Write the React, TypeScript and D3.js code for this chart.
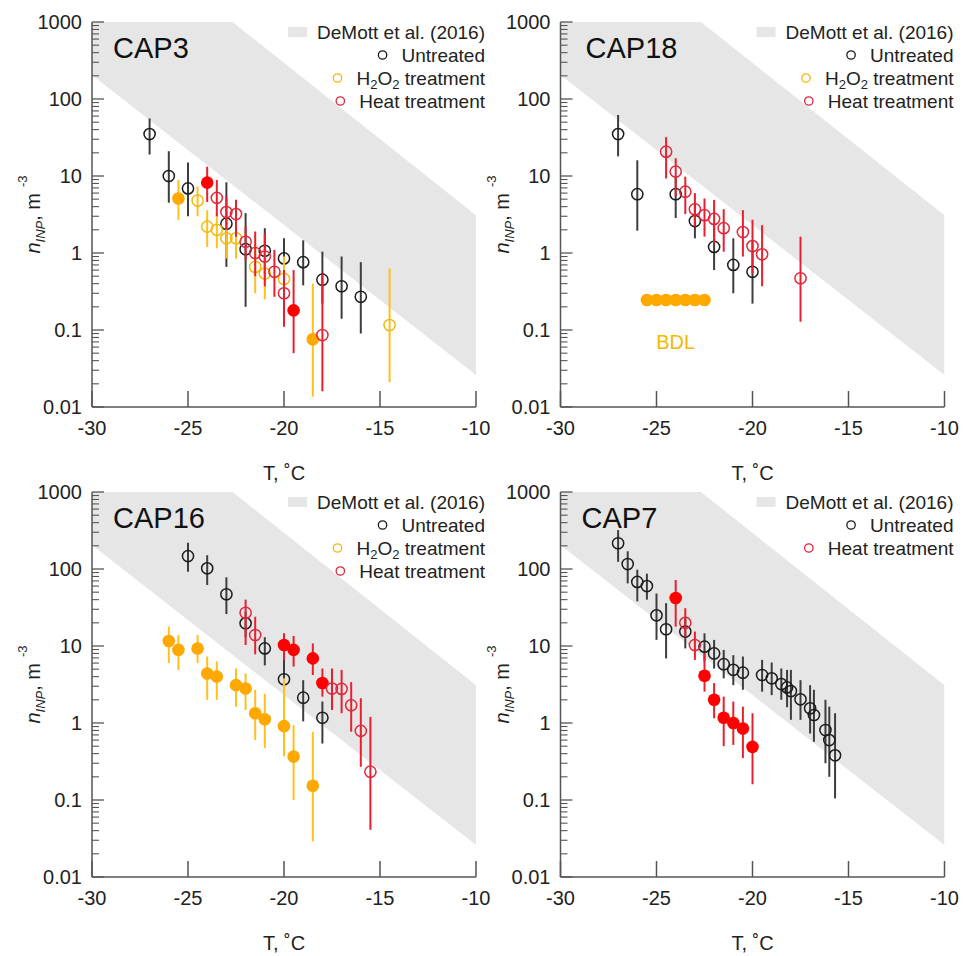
import React from "react";
import * as d3 from "d3";

// [T (°C), n_INP (m^-3), lower error, upper error, filled?]
type Pt = [number, number, number, number, number?];

// ---- CAP3
const cap3Untreated: Pt[] = [
  [-27, 35, 19, 56], [-26, 10, 4.5, 21], [-25, 6.9, 3.0, 15], [-23, 2.4, 0.66, 8.3],
  [-22, 1.12, 0.2, 3.3], [-21, 1.07, 0.52, 2.1], [-20, 0.85, 0.45, 1.55], [-19, 0.76, 0.38, 1.46],
  [-18, 0.45, 0.22, 1.04], [-17, 0.37, 0.14, 0.9], [-16, 0.27, 0.09, 0.76],
];
const cap3H2o2: Pt[] = [
  [-25.5, 5.1, 2.7, 8.9, 1], [-24.5, 4.8, 3.0, 7.3], [-24, 2.2, 1.2, 3.6], [-23.5, 2.0, 1.15, 3.3],
  [-23, 1.55, 0.85, 2.4], [-22.5, 1.55, 0.85, 2.2], [-21.5, 0.66, 0.3, 1.34], [-21, 0.54, 0.25, 1.1],
  [-20, 0.46, 0.22, 0.9], [-18.5, 0.076, 0.0136, 0.4, 1], [-14.5, 0.116, 0.021, 0.63],
];
const cap3Heat: Pt[] = [
  [-24, 8.2, 4.6, 13.2, 1], [-23.5, 5.2, 3.0, 8.9], [-23, 3.4, 2.0, 5.4], [-22.5, 3.2, 1.63, 4.9],
  [-22, 1.4, 0.81, 2.2], [-21.5, 1.0, 0.5, 1.9], [-21, 0.9, 0.37, 1.8], [-20.5, 0.57, 0.27, 1.1],
  [-20, 0.3, 0.11, 0.6], [-19.5, 0.18, 0.05, 0.6, 1], [-18, 0.086, 0.016, 0.54],
];

// ---- CAP18
const cap18Untreated: Pt[] = [
  [-27, 35, 18, 62], [-26, 5.8, 1.95, 16], [-24, 5.8, 2.85, 9.8], [-23, 2.6, 1.55, 4.4],
  [-22, 1.2, 0.6, 2.4], [-21, 0.7, 0.3, 1.55], [-20, 0.57, 0.22, 1.46],
];
// below detection limit, no error bars
const cap18H2o2: Pt[] = [
  [-25.5, 0.245, 0.245, 0.245, 1], [-25, 0.245, 0.245, 0.245, 1], [-24.5, 0.245, 0.245, 0.245, 1],
  [-24, 0.245, 0.245, 0.245, 1], [-23.5, 0.245, 0.245, 0.245, 1], [-23, 0.245, 0.245, 0.245, 1],
  [-22.5, 0.245, 0.245, 0.245, 1],
];
const cap18Heat: Pt[] = [
  [-24.5, 20.7, 9.3, 32], [-24, 11.4, 5.5, 17], [-23.5, 6.25, 3.2, 9.8], [-23, 3.7, 2.2, 6],
  [-22.5, 3.1, 1.63, 5.1], [-22, 2.77, 1.34, 4.9], [-21.5, 2.1, 1.04, 3.7], [-20.5, 1.87, 0.9, 3.6],
  [-20, 1.23, 0.54, 2.7], [-19.5, 0.96, 0.37, 2.3], [-17.5, 0.47, 0.128, 1.63],
];
const bdlLabel = { t: -24, v: 0.07 };

// ---- CAP16
const cap16Untreated: Pt[] = [
  [-25, 147, 92, 220], [-24, 102, 62, 151], [-23, 47, 26, 78], [-22, 19.7, 13, 28],
  [-21, 9.3, 5.6, 13], [-20, 3.7, 1.63, 7.9], [-19, 2.13, 1.05, 3.6], [-18, 1.17, 0.54, 1.9],
];
const cap16H2o2: Pt[] = [
  [-26, 11.6, 6, 17.8, 1], [-25.5, 8.9, 4.9, 13.9, 1], [-24.5, 9.3, 6, 13.9, 1], [-24, 4.4, 2.0, 7.3, 1],
  [-23.5, 4.0, 2.0, 6.3, 1], [-22.5, 3.1, 1.63, 5.1, 1], [-22, 2.8, 1.48, 4.4, 1], [-21.5, 1.34, 0.6, 2.7, 1],
  [-21, 1.12, 0.47, 2.4, 1], [-20, 0.91, 0.37, 3.8, 1], [-19.5, 0.366, 0.1, 0.94, 1], [-18.5, 0.153, 0.029, 0.77, 1],
];
const cap16Heat: Pt[] = [
  [-22, 27, 10.3, 40], [-21.5, 13.9, 7.8, 24], [-20, 10.3, 6.6, 14.6, 1], [-19.5, 8.9, 5.4, 13.5, 1],
  [-18.5, 6.9, 4.2, 10.8, 1], [-18, 3.3, 2.2, 5.1, 1], [-17.5, 2.8, 1.48, 5.1], [-17, 2.77, 1.34, 4.9],
  [-16.5, 1.7, 0.77, 3.4], [-16, 0.79, 0.27, 2.1], [-15.5, 0.233, 0.041, 1.2],
];

// ---- CAP7
const cap7Untreated: Pt[] = [
  [-27, 216, 124, 320], [-26.5, 116, 65, 170], [-26, 68, 38, 98], [-25.5, 60, 40, 87],
  [-25, 25, 12, 48], [-24.5, 16.5, 6.9, 36], [-23.5, 15.4, 9.3, 23], [-22.5, 9.8, 6.3, 14.6],
  [-22, 8.0, 5.1, 12], [-21.5, 5.8, 3.8, 8.9], [-21, 4.9, 3.1, 7.6], [-20.5, 4.5, 2.7, 7.3],
  [-19.5, 4.2, 2.55, 6.6], [-19, 3.8, 2.3, 6.1], [-18.5, 3.2, 2.0, 5.1], [-18.2, 2.9, 1.6, 4.9],
  [-18, 2.6, 1.1, 4.9], [-17.5, 2.03, 1.1, 3.6], [-17, 1.55, 0.73, 3.1], [-16.8, 1.27, 0.57, 2.7],
  [-16.2, 0.81, 0.3, 2.0], [-16, 0.6, 0.2, 1.63], [-15.7, 0.38, 0.105, 1.34],
];
const cap7Heat: Pt[] = [
  [-24, 42, 17.8, 72, 1], [-23.5, 20, 13, 31], [-23, 10.3, 6.6, 15.4], [-22.5, 4.1, 2.55, 8, 1],
  [-22, 2.0, 1.15, 3.3, 1], [-21.5, 1.17, 0.5, 2.2, 1], [-21, 1.0, 0.52, 1.9, 1],
  [-20.5, 0.85, 0.35, 1.63, 1], [-20, 0.49, 0.16, 1.34, 1],
];

// DeMott et al. (2016) band edges
const demottT = [-30, -10];
const demottLow = [205, 0.026];
const demottHigh = [28000, 3.1];

const xTicks = [-30, -25, -20, -15, -10];
const yTicks = [0.01, 0.1, 1, 10, 100, 1000];
const yTickLabels = ["0.01", "0.1", "1", "10", "100", "1000"];

const FONT = "'Liberation Sans', Arial, Helvetica, sans-serif";
const W = 384;
const H = 385;

const styles = {
  untreated: { ring: "#1c1c1c", bar: "#3d3d3d", fill: "#1c1c1c" },
  h2o2: { ring: "#F2B810", bar: "#FFC01E", fill: "#FFA800" },
  heat: { ring: "#E0283C", bar: "#E8202E", fill: "#FF0000" },
};
type Key = keyof typeof styles;

const legendNames: Record<Key, string> = {
  untreated: "Untreated",
  h2o2: "H2O2 treatment",
  heat: "Heat treatment",
};

let ctx: CanvasRenderingContext2D | null = null;
function textW(s: string, size: number) {
  if (!ctx) ctx = document.createElement("canvas").getContext("2d");
  if (!ctx) return s.length * size * 0.55;
  ctx.font = `${size}px 'Liberation Sans', Arial`;
  return ctx.measureText(s).width;
}

const x = d3.scaleLinear().domain([-30, -10]).range([0, W]);
const y = d3.scaleLog().domain([0.01, 1000]).range([H, 0]);

function Panel(props: {
  x0: number;
  y0: number;
  id: string;
  label: string;
  series: { key: Key; data: Pt[] }[];
  legend: Key[];
  bdl?: boolean;
}) {
  const { x0, y0, id, label, series, legend, bdl } = props;
  const band = demottT.map((t, i) => ({ t, lo: demottLow[i], hi: demottHigh[i] }));
  const area = d3
    .area<{ t: number; lo: number; hi: number }>()
    .x((d) => x(d.t))
    .y0((d) => y(d.lo))
    .y1((d) => y(d.hi));

  const minor: number[] = [];
  for (let e = -2; e < 3; e++) for (let m = 2; m < 10; m++) minor.push(m * Math.pow(10, e));

  const textEnd = W + 9;
  const rowY = [10, 33, 56, 79];
  const fs = 19;

  return (
    <g transform={`translate(${x0},${y0})`} fontFamily={FONT}>
      <defs>
        <clipPath id={id}>
          <rect x={0} y={0} width={W} height={H} />
        </clipPath>
      </defs>
      <path d={area(band) || ""} fill="#E6E6E6" clipPath={`url(#${id})`} />

      {/* axes */}
      <line x1={0} y1={0} x2={0} y2={H} stroke="#555" strokeWidth={1.5} />
      <line x1={0} y1={H} x2={W} y2={H} stroke="#555" strokeWidth={1.5} />
      {yTicks.map((v) => (
        <line key={"M" + v} x1={0} x2={12} y1={y(v)} y2={y(v)} stroke="#555" strokeWidth={1.3} />
      ))}
      {minor.map((v) => (
        <line key={"m" + v} x1={0} x2={7} y1={y(v)} y2={y(v)} stroke="#555" strokeWidth={1.1} />
      ))}
      {xTicks.map((t) => (
        <line key={"x" + t} x1={x(t)} x2={x(t)} y1={H} y2={H - 16} stroke="#555" strokeWidth={1.5} />
      ))}
      {yTicks.map((v, i) => (
        <text key={"yl" + v} x={-10} y={y(v) + 7} fontSize={20} textAnchor="end" fill="#222">
          {yTickLabels[i]}
        </text>
      ))}
      {xTicks.map((t) => (
        <text key={"xl" + t} x={x(t)} y={H + 28} fontSize={20} textAnchor="middle" fill="#222">
          {t}
        </text>
      ))}
      <text x={W / 2} y={H + 73} fontSize={20} textAnchor="middle" fill="#222">
        T, ˚C
      </text>
      <text transform={`translate(-52,${H / 2}) rotate(-90)`} fontSize={20} textAnchor="middle" fill="#222">
        <tspan fontStyle="italic">n</tspan>
        <tspan fontStyle="italic" fontSize={13} dy={5}>INP</tspan>
        <tspan dy={-5}>, m</tspan>
        <tspan fontSize={13} dx={6} dy={-13}>-3</tspan>
      </text>

      <text x={label === "CAP18" ? 25 : 21} y={36} fontSize={29} fill="#111">
        {label}
      </text>

      {/* data */}
      {series.map((s) => {
        const st = styles[s.key];
        return (
          <g key={s.key}>
            {s.data
              .filter((d) => d[2] !== d[3])
              .map((d, i) => (
                <line key={"b" + i} x1={x(d[0])} x2={x(d[0])} y1={y(d[2])} y2={y(d[3])} stroke={st.bar} strokeWidth={2} />
              ))}
            {s.data.map((d, i) =>
              d[4] ? (
                <circle key={"c" + i} cx={x(d[0])} cy={y(d[1])} r={6.3} fill={st.fill} />
              ) : (
                <circle key={"c" + i} cx={x(d[0])} cy={y(d[1])} r={5.6} fill="none" stroke={st.ring} strokeWidth={1.5} />
              )
            )}
          </g>
        );
      })}
      {bdl && (
        <text x={x(bdlLabel.t)} y={y(bdlLabel.v) + 7} fontSize={20} textAnchor="middle" fill="#F5B800">
          BDL
        </text>
      )}

      {/* legend */}
      <g>
        <text x={textEnd} y={rowY[0] + 7} fontSize={fs} textAnchor="end" fill="#222">
          DeMott et al. (2016)
        </text>
        <rect
          x={textEnd - textW("DeMott et al. (2016)", fs) - 29}
          y={rowY[0] - 5}
          width={19}
          height={10}
          fill="#E6E6E6"
        />
        {legend.map((k, i) => {
          const name = legendNames[k];
          const yy = rowY[i + 1];
          const w =
            k === "h2o2"
              ? textW("H", fs) + textW("2", 13) * 2 + textW("O", fs) + textW(" treatment", fs)
              : textW(name, fs);
          return (
            <g key={k}>
              <circle cx={textEnd - w - 19} cy={yy} r={4.2} fill="none" stroke={styles[k].ring} strokeWidth={1.3} />
              {k === "h2o2" ? (
                <text x={textEnd} y={yy + 7} fontSize={fs} textAnchor="end" fill="#222">
                  H<tspan fontSize={13} dy={4}>2</tspan>
                  <tspan dy={-4}>O</tspan>
                  <tspan fontSize={13} dy={4}>2</tspan>
                  <tspan dy={-4}> treatment</tspan>
                </text>
              ) : (
                <text x={textEnd} y={yy + 7} fontSize={fs} textAnchor="end" fill="#222">
                  {name}
                </text>
              )}
            </g>
          );
        })}
      </g>
    </g>
  );
}

export default function App() {
  return (
    <svg
      width={971}
      height={956}
      style={{ position: "absolute", left: 0, top: 0, background: "#fff" }}
    >
      <rect width={971} height={956} fill="#fff" />
      <Panel
        x0={92}
        y0={22}
        id="c1"
        label="CAP3"
        series={[
          { key: "untreated", data: cap3Untreated },
          { key: "h2o2", data: cap3H2o2 },
          { key: "heat", data: cap3Heat },
        ]}
        legend={["untreated", "h2o2", "heat"]}
      />
      <Panel
        x0={560.5}
        y0={22}
        id="c2"
        label="CAP18"
        series={[
          { key: "untreated", data: cap18Untreated },
          { key: "h2o2", data: cap18H2o2 },
          { key: "heat", data: cap18Heat },
        ]}
        legend={["untreated", "h2o2", "heat"]}
        bdl
      />
      <Panel
        x0={92}
        y0={492}
        id="c3"
        label="CAP16"
        series={[
          { key: "untreated", data: cap16Untreated },
          { key: "h2o2", data: cap16H2o2 },
          { key: "heat", data: cap16Heat },
        ]}
        legend={["untreated", "h2o2", "heat"]}
      />
      <Panel
        x0={560.5}
        y0={492}
        id="c4"
        label="CAP7"
        series={[
          { key: "untreated", data: cap7Untreated },
          { key: "heat", data: cap7Heat },
        ]}
        legend={["untreated", "heat"]}
      />
    </svg>
  );
}
